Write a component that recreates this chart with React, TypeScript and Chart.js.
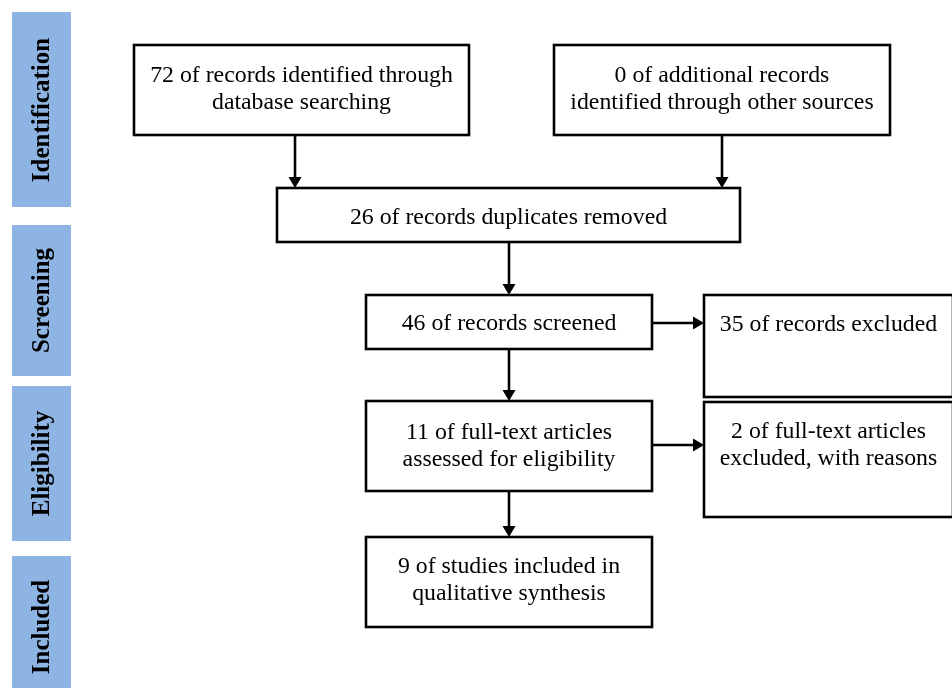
import React, { useEffect, useRef } from "react";
import { Chart, registerables } from "chart.js";

Chart.register(...registerables);

// ---- data ----
const stageLabels: string[] = ["Identification", "Screening", "Eligibility", "Included"];
const recordCounts: number[] = [72, 0, 26, 46, 35, 11, 2, 9];
const boxTexts: string[][] = [
  [`${recordCounts[0]} of records identified through`, "database searching"],
  [`${recordCounts[1]} of additional records`, "identified through other sources"],
  [`${recordCounts[2]} of records duplicates removed`],
  [`${recordCounts[3]} of records screened`],
  [`${recordCounts[4]} of records excluded`],
  [`${recordCounts[5]} of full-text articles`, "assessed for eligibility"],
  [`${recordCounts[6]} of full-text articles`, "excluded, with reasons"],
  [`${recordCounts[7]} of studies included in`, "qualitative synthesis"],
];

// ---- layout (in scale units) ----
const W = 952;
const H = 688;
const stageLayout = [
  { y0: 12, y1: 207, ty: 110 },
  { y0: 225, y1: 376, ty: 300.5 },
  { y0: 386, y1: 541, ty: 463.5 },
  { y0: 556, y1: 700, ty: 627 },
];
const stageX = { x0: 12, x1: 71 };
const boxLayout = [
  { x0: 134, y0: 45, x1: 469, y1: 135, ty: 89.5 },
  { x0: 554, y0: 45, x1: 890, y1: 135, ty: 89 },
  { x0: 277, y0: 188, x1: 740, y1: 242, ty: 218 },
  { x0: 366, y0: 295, x1: 652, y1: 349, ty: 324 },
  { x0: 704, y0: 295, x1: 953, y1: 397, ty: 325 },
  { x0: 366, y0: 401, x1: 652, y1: 491, ty: 446 },
  { x0: 704, y0: 402, x1: 953, y1: 517, ty: 445.5 },
  { x0: 366, y0: 537, x1: 652, y1: 627, ty: 580.5 },
];
// arrows: [x0, y0, x1, y1]
const arrows: number[][] = [
  [295, 135, 295, 188],
  [722, 135, 722, 188],
  [509, 242, 509, 295],
  [652, 323, 704, 323],
  [509, 349, 509, 401],
  [652, 445, 704, 445],
  [509, 491, 509, 537],
];

const LINE_H = 27;

const flowPlugin = {
  id: "flow",
  beforeDraw(chart: any) {
    const ctx = chart.ctx;
    ctx.save();
    ctx.fillStyle = "#ffffff";
    ctx.fillRect(0, 0, chart.width, chart.height);
    ctx.restore();
  },
  afterDraw(chart: any) {
    const ctx: CanvasRenderingContext2D = chart.ctx;
    const xs = chart.scales.x;
    const ys = chart.scales.y;
    const px = (v: number) => xs.getPixelForValue(v);
    const py = (v: number) => ys.getPixelForValue(v);
    ctx.save();

    // stage bars
    stageLayout.forEach((s, i) => {
      const x0 = px(stageX.x0), x1 = px(stageX.x1);
      const y0 = py(s.y0), y1 = py(s.y1);
      ctx.fillStyle = "#8EB4E3";
      ctx.fillRect(x0, y0, x1 - x0, y1 - y0);
      const cx = (x0 + x1) / 2;
      ctx.save();
      ctx.translate(cx + 1, py(s.ty));
      ctx.rotate(-Math.PI / 2);
      ctx.fillStyle = "#000";
      ctx.font = "bold 25px 'Liberation Serif', 'DejaVu Serif', serif";
      ctx.textAlign = "center";
      ctx.textBaseline = "middle";
      ctx.fillText(stageLabels[i], 0, 0);
      ctx.restore();
    });

    // boxes
    ctx.strokeStyle = "#000";
    ctx.lineWidth = 2.6;
    boxLayout.forEach((b, i) => {
      const x0 = px(b.x0), x1 = px(b.x1), y0 = py(b.y0), y1 = py(b.y1);
      ctx.strokeRect(x0, y0, x1 - x0, y1 - y0);
      const lines = boxTexts[i];
      ctx.fillStyle = "#000";
      ctx.font = "23.8px 'Liberation Serif', 'DejaVu Serif', serif";
      ctx.textAlign = "center";
      ctx.textBaseline = "middle";
      const cx = (x0 + x1) / 2;
      const start = py(b.ty) - ((lines.length - 1) * LINE_H) / 2;
      lines.forEach((t, k) => ctx.fillText(t, cx, start + k * LINE_H));
    });

    // arrows
    arrows.forEach((a) => {
      const x0 = px(a[0]), y0 = py(a[1]), x1 = px(a[2]), y1 = py(a[3]);
      const ang = Math.atan2(y1 - y0, x1 - x0);
      const len = 11, half = 6.5;
      const bx = x1 - Math.cos(ang) * len;
      const by = y1 - Math.sin(ang) * len;
      ctx.beginPath();
      ctx.moveTo(x0, y0);
      ctx.lineTo(bx, by);
      ctx.lineWidth = 2.6;
      ctx.stroke();
      ctx.beginPath();
      ctx.moveTo(x1, y1);
      ctx.lineTo(bx - Math.sin(ang) * half, by + Math.cos(ang) * half);
      ctx.lineTo(bx + Math.sin(ang) * half, by - Math.cos(ang) * half);
      ctx.closePath();
      ctx.fillStyle = "#000";
      ctx.fill();
    });

    ctx.restore();
  },
};

export default function App() {
  const ref = useRef<HTMLCanvasElement | null>(null);
  useEffect(() => {
    if (!ref.current) return;
    const chart = new Chart(ref.current, {
      type: "scatter",
      data: { datasets: [{ data: [] }] },
      options: {
        animation: false,
        responsive: false,
        devicePixelRatio: 1,
        events: [],
        layout: { padding: 0 },
        plugins: { legend: { display: false }, tooltip: { enabled: false } },
        scales: {
          x: { type: "linear", min: 0, max: W, display: false },
          y: { type: "linear", min: 0, max: H, reverse: true, display: false },
        },
      },
      plugins: [flowPlugin],
    });
    return () => chart.destroy();
  }, []);
  return (
    <div style={{ position: "absolute", left: 0, top: 0, width: W, height: H, overflow: "hidden" }}>
      <canvas ref={ref} width={W} height={H} style={{ display: "block" }} />
    </div>
  );
}
